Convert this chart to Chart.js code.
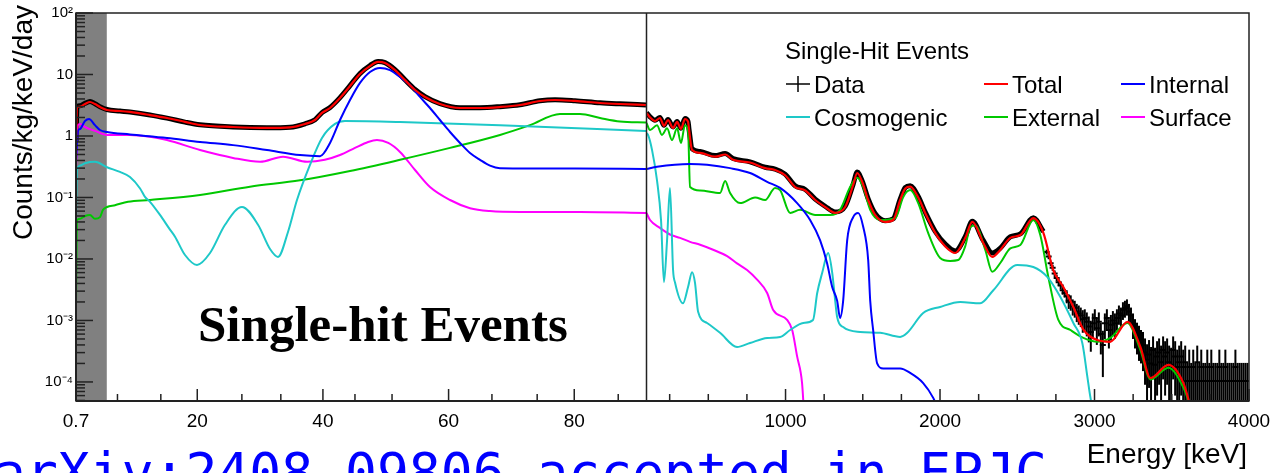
<!DOCTYPE html>
<html>
<head>
<meta charset="utf-8">
<title>Single-hit Events</title>
<script src="https://cdn.jsdelivr.net/npm/chart.js"></script>
<style>
  html, body { margin: 0; padding: 0; background: #fff; }
  canvas { display: block; }
</style>
</head>
<body>
<canvas id="chart" width="1270" height="473"></canvas>
<script>
// split energy axis: 0.7-91.5 keV on the left, 100-4000 keV on the right
const lowTicks = [0.7, 20, 40, 60, 80];
const lowMinor = [7.3, 14.2, 27.1, 33.3, 45.1, 51.0, 66.9, 74.1, 87.0];
const highTicks = [1000, 2000, 3000, 4000];
const highMinor = [250, 500, 750, 1250, 1500, 1750, 2250, 2500, 2750, 3250, 3500, 3750];
const decades = [1e-4, 1e-3, 1e-2, 1e-1, 1, 10, 100];
const decadeLabels = ['10⁻⁴', '10⁻³', '10⁻²', '10⁻¹', '1', '10', '10²'];
const thresholdKeV = 5.6;

// [energy keV, counts/kg/keV/day]
const totalLow = [[0.7,0.77],[0.86,2.96],[1.34,3.0],[2.13,3.3],[2.93,3.57],[3.72,3.3],[4.52,2.96],[5.63,2.65],[7.7,2.55],[9.29,2.46],[12.48,2.19],[15.18,1.96],[18.05,1.7],[20.44,1.51],[25.69,1.40],[31.1,1.35],[34.76,1.38],[37.15,1.57],[38.74,1.82],[39.85,2.37],[41.13,2.85],[42.72,4.15],[44.31,6.5],[45.9,10.2],[47.49,13.7],[48.77,16.0],[49.88,15.4],[51.47,11.8],[53.06,8.1],[54.66,5.6],[56.25,4.31],[58.63,3.31],[61.82,2.85],[65.0,2.85],[68.18,2.96],[71.37,3.19],[74.55,3.71],[76.94,3.85],[80.12,3.71],[84.1,3.44],[87.28,3.31],[91.42,3.19]];
const dataLow = [[0.7,0.8],[0.86,3.0],[1.34,3.1],[2.13,3.4],[2.93,3.65],[3.72,3.35],[4.52,3.0],[5.63,2.7],[7.7,2.55],[9.29,2.45],[12.48,2.2],[15.18,1.95],[18.05,1.68],[20.44,1.52],[25.69,1.40],[31.1,1.36],[34.76,1.39],[37.15,1.58],[38.74,1.84],[39.85,2.4],[41.13,2.9],[42.72,4.2],[44.31,6.6],[45.9,10.4],[47.49,14.0],[48.77,16.3],[49.88,15.6],[51.47,12.0],[53.06,8.2],[54.66,5.7],[56.25,4.35],[58.63,3.35],[61.82,2.88],[65.0,2.88],[68.18,3.0],[71.37,3.22],[74.55,3.75],[76.94,3.9],[80.12,3.75],[84.1,3.46],[87.28,3.33],[91.42,3.2]];
const internalLow = [[0.7,0.4],[1.02,1.21],[1.34,1.3],[2.13,1.75],[2.77,1.89],[3.72,1.5],[4.52,1.25],[5.63,1.16],[9.29,1.06],[15.18,0.93],[20.44,0.80],[25.69,0.71],[31.1,0.59],[36.35,0.49],[39.54,0.47],[41.13,0.77],[42.72,1.82],[44.31,3.85],[45.9,7.3],[47.49,11.0],[49.08,12.8],[50.68,11.8],[52.27,9.1],[53.86,6.75],[55.45,4.31],[57.04,2.85],[58.63,1.82],[60.23,1.16],[61.82,0.77],[63.41,0.53],[65.0,0.41],[66.59,0.33],[68.18,0.30],[80.12,0.295],[91.42,0.29]];
const surfaceLow = [[0.7,0.3],[1.02,1.51],[1.34,1.57],[2.13,1.40],[3.72,1.21],[5.63,1.04],[9.29,1.04],[12.48,0.97],[15.18,0.86],[20.44,0.59],[25.69,0.44],[30.0,0.38],[33.65,0.46],[37.5,0.38],[40.3,0.41],[42.72,0.49],[45.1,0.64],[47.2,0.80],[48.6,0.86],[50.4,0.77],[52.27,0.55],[54.66,0.28],[57.04,0.148],[60.23,0.091],[63.41,0.067],[66.59,0.060],[71.37,0.058],[80.92,0.058],[91.42,0.056]];
const cosmoLow = [[0.7,0.04],[0.86,0.28],[1.34,0.33],[2.13,0.36],[3.72,0.38],[5.63,0.31],[7.7,0.26],[9.29,0.215],[10.9,0.14],[11.68,0.102],[12.48,0.085],[14.07,0.052],[15.66,0.030],[16.46,0.023],[18.05,0.0116],[19.96,0.0080],[22.03,0.0125],[24.42,0.036],[27.12,0.070],[29.67,0.036],[31.58,0.0145],[32.85,0.0108],[34.44,0.0275],[35.87,0.091],[37.94,0.34],[39.85,0.93],[41.92,1.57],[43.51,1.75],[52.27,1.69],[68.18,1.5],[91.42,1.21]];
const externalLow = [[0.7,0.0017],[0.86,0.043],[1.34,0.045],[2.13,0.050],[2.93,0.052],[3.72,0.045],[4.52,0.048],[5.0,0.063],[5.63,0.070],[6.91,0.075],[8.98,0.085],[12.48,0.091],[20.44,0.11],[28.39,0.15],[36.35,0.19],[44.31,0.27],[52.27,0.41],[60.23,0.64],[68.18,1.04],[72.96,1.5],[77.73,2.28],[80.92,2.28],[84.1,1.96],[87.28,1.72],[91.42,1.65]];

const totalHigh = [[100,2.37],[123,2.0],[155,1.75],[187,1.96],[213,1.46],[239,1.82],[272,1.35],[298,1.69],[323,1.30],[349,1.89],[369,1.7],[375,1.3],[395,0.59],[447,0.53],[544,0.46],[609,0.50],[660,0.41],[770,0.37],[868,0.30],[932,0.28],[997,0.23],[1062,0.148],[1127,0.13],[1192,0.091],[1256,0.070],[1321,0.056],[1386,0.070],[1438,0.16],[1464,0.25],[1496,0.18],[1535,0.091],[1580,0.052],[1645,0.040],[1697,0.043],[1742,0.091],[1775,0.14],[1807,0.15],[1859,0.10],[1904,0.056],[1969,0.0265],[2034,0.016],[2099,0.0125],[2163,0.022],[2209,0.040],[2280,0.0182],[2338,0.0108],[2390,0.014],[2455,0.022],[2520,0.0245],[2604,0.046],[2669,0.0265],[2733,0.0066],[2798,0.0035],[2863,0.00166],[2928,0.00071],[3018,0.00048],[3102,0.00045],[3213,0.00095],[3297,0.00037],[3362,0.000116],[3478,0.00019],[3576,0.000095],[3621,0.00004]];
const dataHigh = [[100,2.4],[123,2.05],[155,1.8],[187,2.0],[213,1.5],[239,1.85],[272,1.4],[298,1.72],[323,1.33],[349,1.92],[369,1.72],[375,1.3],[395,0.62],[447,0.56],[544,0.48],[609,0.52],[660,0.43],[770,0.38],[868,0.31],[932,0.29],[997,0.24],[1062,0.155],[1127,0.135],[1192,0.094],[1256,0.072],[1321,0.058],[1386,0.072],[1438,0.165],[1464,0.26],[1496,0.185],[1535,0.095],[1580,0.055],[1645,0.042],[1697,0.045],[1742,0.094],[1775,0.145],[1807,0.155],[1859,0.104],[1904,0.058],[1969,0.028],[2034,0.0175],[2099,0.0135],[2163,0.023],[2209,0.041],[2280,0.020],[2338,0.0125],[2390,0.015],[2455,0.023],[2520,0.0255],[2604,0.047],[2669,0.028]];
const internalHigh = [[100,0.29],[168,0.315],[382,0.35],[492,0.34],[641,0.30],[770,0.25],[881,0.18],[965,0.143],[1075,0.081],[1159,0.043],[1224,0.020],[1269,0.0085],[1302,0.0035],[1334,0.0021],[1353,0.0011],[1373,0.0021],[1399,0.020],[1438,0.048],[1470,0.056],[1503,0.033],[1535,0.0096],[1548,0.0021],[1567,0.0007],[1593,0.0002],[1632,0.000165],[1742,0.000165],[1807,0.00014],[1891,0.000096],[1956,0.000055],[2000,0.00003]];
const surfaceHigh = [[100,0.056],[123,0.043],[187,0.032],[252,0.025],[317,0.022],[382,0.019],[447,0.017],[531,0.0141],[622,0.0111],[686,0.0085],[751,0.0066],[816,0.0046],[881,0.0028],[920,0.00148],[1010,0.00102],[1043,0.0007],[1075,0.00026],[1107,0.000096],[1120,0.00003]];
const cosmoHigh = [[100,1.11],[110,1.04],[136,0.59],[168,0.19],[194,0.043],[213,0.0042],[233,0.02],[252,0.143],[272,0.0066],[285,0.0041],[336,0.0019],[369,0.0035],[395,0.0061],[414,0.0041],[434,0.00138],[492,0.00091],[576,0.00063],[686,0.00037],[770,0.00043],[881,0.00052],[965,0.00054],[1030,0.0007],[1114,0.00091],[1178,0.00102],[1205,0.0028],[1237,0.0059],[1276,0.0125],[1302,0.0060],[1321,0.00215],[1334,0.00114],[1373,0.00078],[1483,0.00065],[1612,0.00063],[1742,0.00054],[1788,0.00063],[1891,0.00132],[2001,0.00166],[2131,0.0020],[2260,0.0019],[2345,0.0031],[2500,0.0080],[2604,0.0074],[2694,0.0051],[2779,0.0024],[2863,0.00091],[2921,0.00043],[2954,0.00012],[2973,0.000057],[2993,0.00003]];
const externalHigh = [[100,1.63],[123,1.25],[168,1.5],[200,1.04],[233,1.33],[265,0.86],[298,1.33],[323,0.77],[349,1.5],[369,1.2],[382,0.148],[447,0.13],[576,0.118],[609,0.185],[641,0.118],[706,0.081],[803,0.10],[868,0.091],[932,0.143],[965,0.132],[1030,0.056],[1094,0.063],[1192,0.052],[1289,0.052],[1353,0.063],[1418,0.148],[1464,0.21],[1503,0.148],[1548,0.063],[1612,0.043],[1710,0.046],[1762,0.102],[1807,0.132],[1859,0.081],[1923,0.0265],[2001,0.0104],[2066,0.0093],[2118,0.0096],[2163,0.016],[2196,0.033],[2228,0.035],[2293,0.014],[2338,0.0062],[2390,0.0086],[2455,0.0149],[2520,0.0169],[2604,0.043],[2649,0.0245],[2701,0.0051],[2766,0.00102],[2844,0.0007],[2928,0.00052],[3018,0.00045],[3102,0.00052],[3213,0.00091],[3297,0.00033],[3362,0.00011],[3478,0.00017],[3576,0.00008],[3621,0.00004]];

// high-energy data bins (13 keV) with statistical errors
const tailE = [2690,2703,2716,2729,2742,2755,2768,2781,2794,2807,2820,2833,2846,2859,2872,2885,2898,2911,2924,2937,2950,2963,2976,2989,3002,3015,3028,3041,3054,3067,3080,3093,3106,3119,3132,3145,3158,3171,3184,3197,3210,3223,3236,3249,3262,3275,3288,3301,3314,3327,3340,3353,3366,3379,3392,3405,3418,3431,3444,3457,3470,3483,3496,3509,3522,3535,3548,3561,3574,3587,3600,3613,3626,3639,3652,3665,3678,3691,3704,3717,3730,3743,3756,3769,3782,3795,3808,3821,3834,3847,3860,3873,3886,3899,3912,3925,3938,3951,3964,3977,3990];
const tailV = [0.013,0.011,0.0085,0.0072,0.0058,0.0049,0.0042,0.0037,0.0031,0.0028,0.0025,0.0021,0.0020,0.0017,0.0016,0.0014,0.0013,0.0012,0.00105,0.0011,0.00095,0.0008,0.00065,0.0009,0.0011,0.00075,0.00095,0.0006,0.0004,0.0009,0.0011,0.0007,0.00085,0.001,0.0009,0.0011,0.0013,0.0012,0.0015,0.0016,0.0017,0.0014,0.0012,0.0009,0.0007,0.0006,0.00052,0.00045,0.0004,0.0003,0.00023,0.00028,0.0002,0.00033,0.00019,0.00026,0.0003,0.00021,0.00033,0.00026,0.0003,0.00021,0.00019,0.00033,0.00026,0.000175,0.00021,0.00026,0.000175,0.00021,0.000104,0.000175,0.000104,0.000175,0.000104,0.00021,0.000104,0.000175,0.000104,0.000104,0.000175,0.000104,0.000175,0.000104,0.000104,0.000104,0.000175,0.000104,0.000104,0.000175,0.000104,0.000104,0.000104,0.000104,0.000175,0.000104,0.000104,0.000104,0.000104,0.000104,0.000104];
const tailErr = [0.0012,0.0011,0.0009,0.0008,0.0007,0.0006,0.00055,0.0005,0.00048,0.00045,0.0006,0.00056,0.00056,0.0005,0.00049,0.00046,0.00045,0.00042,0.00042,0.00042,0.0004,0.00036,0.00034,0.0004,0.00042,0.00035,0.0004,0.00032,0.00028,0.0004,0.00042,0.00035,0.00038,0.00042,0.0004,0.00042,0.00045,0.00042,0.00048,0.00049,0.0005,0.00046,0.00042,0.0004,0.00035,0.00032,0.0003,0.00025,0.00025,0.00021,0.00018,0.0002,0.00017,0.00022,0.00017,0.0002,0.00021,0.00018,0.00022,0.0002,0.00021,0.00018,0.00017,0.00022,0.0002,0.00016,0.00018,0.0002,0.00016,0.00018,0.0001,0.00016,0.0001,0.00016,0.0001,0.00018,0.0001,0.00016,0.0001,0.0001,0.00016,0.0001,0.00016,0.0001,0.0001,0.0001,0.00016,0.0001,0.0001,0.00016,0.0001,0.0001,0.0001,0.0001,0.00016,0.0001,0.0001,0.0001,0.0001,0.0001,0.0001];

const legendNames = ['Data', 'Total', 'Internal', 'Cosmogenic', 'External', 'Surface'];
const colors = {
  data: '#000000', total: '#ff0000', internal: '#0000ff',
  cosmo: '#1ec8c8', external: '#00c800', surface: '#ff00ff'
};

const FONT = '"Liberation Sans", Arial, Helvetica, sans-serif';
Chart.defaults.font.family = FONT;
Chart.defaults.color = '#000';

const toPoints = arr => arr.map(([x, y]) => ({ x, y }));

function curve(label, pts, xAxisID, color, width, order) {
  return {
    label, data: toPoints(pts), xAxisID, yAxisID: 'y',
    borderColor: color, borderWidth: width, pointRadius: 0,
    fill: false, cubicInterpolationMode: 'monotone', order
  };
}

const datasets = [
  curve('Total', totalLow, 'xl', colors.total, 2.2, 0),
  curve('Total', totalHigh, 'xr', colors.total, 2.2, 0),
  curve('Internal', internalLow, 'xl', colors.internal, 2, 1),
  curve('Internal', internalHigh, 'xr', colors.internal, 2, 1),
  curve('Cosmogenic', cosmoLow, 'xl', colors.cosmo, 2, 2),
  curve('Cosmogenic', cosmoHigh, 'xr', colors.cosmo, 2, 2),
  curve('External', externalLow, 'xl', colors.external, 2, 3),
  curve('External', externalHigh, 'xr', colors.external, 2, 3),
  curve('Surface', surfaceLow, 'xl', colors.surface, 2, 4),
  curve('Surface', surfaceHigh, 'xr', colors.surface, 2, 4),
  curve('Data', dataLow, 'xl', colors.data, 5, 6),
  curve('Data', dataHigh, 'xr', colors.data, 5, 6),
  {
    label: 'Data', xAxisID: 'xr', yAxisID: 'y',
    data: tailE.map((x, i) => ({ x, y: tailV[i] })),
    errors: tailErr,
    showLine: false, pointStyle: 'line', pointRadius: 3,
    borderColor: colors.data, backgroundColor: colors.data, borderWidth: 2, order: 5
  }
];

function seg(ctx, x1, y1, x2, y2) {
  ctx.beginPath(); ctx.moveTo(x1, y1); ctx.lineTo(x2, y2); ctx.stroke();
}

// ROOT-like frame: shaded threshold, inward ticks, panel divider, texts and legend
const decor = {
  id: 'decor',
  beforeDatasetsDraw(chart) {
    const { ctx, chartArea: a, scales } = chart;
    ctx.save();
    ctx.fillStyle = '#808080';
    ctx.fillRect(a.left, a.top, scales.xl.getPixelForValue(thresholdKeV) - a.left, a.bottom - a.top);

    // error bars sit under the fitted curves
    ctx.beginPath(); ctx.rect(a.left, a.top, a.right - a.left, a.bottom - a.top); ctx.clip();
    ctx.strokeStyle = '#000'; ctx.lineWidth = 2;
    chart.data.datasets.forEach((ds, i) => {
      if (!ds.errors) return;
      chart.getDatasetMeta(i).data.forEach((pt, j) => {
        const v = ds.data[j].y, e = ds.errors[j];
        const top = scales.y.getPixelForValue(v + e);
        const bot = v > e ? scales.y.getPixelForValue(v - e) : a.bottom;
        seg(ctx, pt.x, top, pt.x, bot);
      });
    });
    ctx.restore();
  },
  afterDatasetsDraw(chart) {
    const { ctx, chartArea: a, scales: { xl, xr, y } } = chart;
    ctx.save();
    ctx.strokeStyle = '#222';
    ctx.lineWidth = 1.5;
    ctx.strokeRect(a.left, a.top, a.right - a.left, a.bottom - a.top);
    ctx.lineWidth = 2;
    seg(ctx, a.left, a.top, a.left, a.bottom);
    seg(ctx, a.left, a.bottom, a.right, a.bottom);
    ctx.lineWidth = 1.5;
    seg(ctx, xr.left, a.top, xr.left, a.bottom);

    // y ticks, major at decades
    for (let d = -5; d <= 2; d++) {
      for (let m = 1; m <= 9; m++) {
        const v = m * Math.pow(10, d);
        if (v < y.min || v > y.max * 1.0001) continue;
        const py = y.getPixelForValue(v);
        seg(ctx, a.left, py, a.left + (m === 1 ? 17 : 9), py);
      }
    }
    // x ticks
    lowTicks.slice(1).forEach(v => { const px = xl.getPixelForValue(v); seg(ctx, px, a.bottom, px, a.bottom - 12); });
    lowMinor.forEach(v => { const px = xl.getPixelForValue(v); seg(ctx, px, a.bottom, px, a.bottom - 7); });
    highTicks.forEach(v => { const px = xr.getPixelForValue(v); seg(ctx, px, a.bottom, px, a.bottom - 12); });
    highMinor.forEach(v => { const px = xr.getPixelForValue(v); seg(ctx, px, a.bottom, px, a.bottom - 7); });
    ctx.restore();
  },
  afterDraw(chart) {
    const { ctx } = chart;
    ctx.save();
    ctx.fillStyle = '#000';
    ctx.textBaseline = 'alphabetic';

    // axis titles
    ctx.font = '28px ' + FONT;
    ctx.textAlign = 'right';
    ctx.fillText('Energy [keV]', 1247, 463);
    ctx.save();
    ctx.translate(32, 5);
    ctx.rotate(-Math.PI / 2);
    ctx.font = '28px ' + FONT;
    ctx.textAlign = 'right';
    ctx.fillText('Counts/kg/keV/day', 0, 0);
    ctx.restore();

    // panel label
    ctx.textAlign = 'left';
    ctx.font = 'bold 51px "Liberation Serif", "Times New Roman", serif';
    ctx.fillText('Single-hit Events', 198, 341);

    // legend
    ctx.font = '24px ' + FONT;
    ctx.fillText('Single-Hit Events', 785, 59);
    const cols = [786, 984, 1121];
    const rows = [84, 117];
    const swatch = [colors.data, colors.total, colors.internal, colors.cosmo, colors.external, colors.surface];
    legendNames.forEach((name, i) => {
      const x = cols[i % 3], yc = rows[Math.floor(i / 3)];
      ctx.strokeStyle = swatch[i];
      ctx.lineWidth = name === 'Data' ? 1.5 : 2;
      seg(ctx, x, yc, x + 24, yc);
      if (name === 'Data') seg(ctx, x + 12, yc - 8, x + 12, yc + 8);
      ctx.fillStyle = '#000';
      ctx.fillText(name, x + 28, yc + 8.5);
    });

    // reference note
    ctx.fillStyle = '#0000ff';
    ctx.font = '53px "DejaVu Sans Mono", monospace';
    ctx.fillText('arXiv:2408.09806 accepted in EPJC', -6, 491);
    ctx.restore();
  }
};

const tickFont = { size: 19, family: FONT };

// the edge labels may overhang the plot frame
function fitBottom(s) {
  s.height = 72;
  s.paddingLeft = 0;
  s.paddingRight = 0;
}

new Chart(document.getElementById('chart'), {
  type: 'line',
  data: { datasets },
  options: {
    responsive: false,
    animation: false,
    events: [],
    devicePixelRatio: 1,
    layout: { padding: { top: 13, right: 21, bottom: 0, left: 0 } },
    plugins: { legend: { display: false }, tooltip: { enabled: false } },
    scales: {
      xl: {
        type: 'linear', position: 'bottom', stack: 'energy', stackWeight: 570.5,
        min: 0.7, max: 91.5,
        grid: { display: false, drawTicks: false },
        border: { display: false },
        ticks: { font: tickFont, color: '#000', padding: 9, maxRotation: 0, autoSkip: false, callback: v => String(v) },
        afterBuildTicks: s => { s.ticks = lowTicks.map(value => ({ value })); },
        afterFit: fitBottom
      },
      xr: {
        type: 'linear', position: 'bottom', stack: 'energy', stackWeight: 602.5,
        min: 100, max: 4000,
        grid: { display: false, drawTicks: false },
        border: { display: false },
        ticks: { font: tickFont, color: '#000', padding: 9, maxRotation: 0, autoSkip: false, callback: v => String(v) },
        afterBuildTicks: s => { s.ticks = highTicks.map(value => ({ value })); },
        afterFit: fitBottom
      },
      y: {
        type: 'logarithmic', position: 'left',
        min: 4.9e-5, max: 100,
        grid: { display: false, drawTicks: false },
        border: { display: false },
        ticks: {
          font: { size: 15, family: FONT }, color: '#000', padding: 3, autoSkip: false,
          callback: v => decadeLabels[decades.findIndex(d => Math.abs(Math.log10(d) - Math.log10(v)) < 1e-6)]
        },
        afterBuildTicks: s => { s.ticks = decades.map(value => ({ value })); },
        afterFit: s => { s.width = 76; s.paddingTop = 0; s.paddingBottom = 0; }
      }
    }
  },
  plugins: [decor]
});
</script>
</body>
</html>
